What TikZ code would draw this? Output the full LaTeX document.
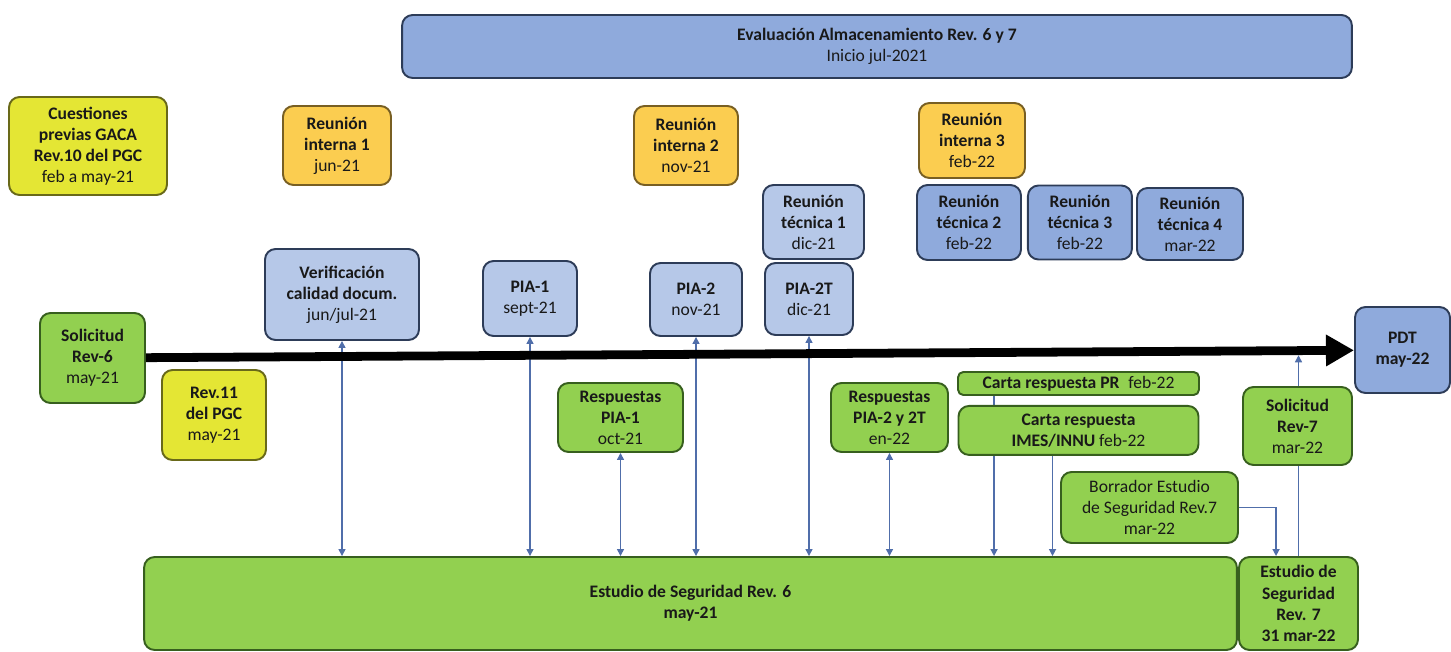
\documentclass[tikz,border=0pt]{standalone}
\usepackage{fontspec}
\setmainfont{Carlito}
\usepackage{xcolor}
\usepackage{tikz}
\usetikzlibrary{positioning,arrows.meta,backgrounds}

\definecolor{yelfill}{RGB}{228,230,52}
\definecolor{yeldraw}{RGB}{105,105,25}
\definecolor{orgfill}{RGB}{251,205,80}
\definecolor{orgdraw}{RGB}{120,95,35}
\definecolor{lblfill}{RGB}{182,200,232}
\definecolor{blufill}{RGB}{143,170,220}
\definecolor{bludraw}{RGB}{45,60,88}
\definecolor{grnfill}{RGB}{146,208,80}
\definecolor{grndraw}{RGB}{55,95,30}
\definecolor{linkcol}{RGB}{80,110,170}

\begin{document}
\begin{tikzpicture}[x=0.02cm, y=-0.02cm,
    box/.style={draw, rounded corners=6pt, line width=1.1pt, align=center,
                inner sep=2pt, font=\fontsize{10}{12}\selectfont, text=black!90},
    yelbox/.style={box, fill=yelfill, draw=yeldraw},
    orgbox/.style={box, fill=orgfill, draw=orgdraw},
    lblbox/.style={box, fill=lblfill, draw=bludraw},
    blubox/.style={box, fill=blufill, draw=bludraw},
    grnbox/.style={box, fill=grnfill, draw=grndraw},
    link/.style={draw=linkcol, line width=0.8pt, >={Triangle[length=4pt,width=4pt]}}]
    \useasboundingbox (0,0) rectangle (1451,652);

    % Top band
    \node[blubox, minimum width=19cm, minimum height=1.26cm] (eval) at (877,46.5)
        {\textbf{Evaluación Almacenamiento Rev. 6 y 7}\\Inicio jul-2021};

    % Meetings and previous steps
    \node[yelbox, minimum width=3.16cm, minimum height=1.96cm] (cuest) at (88,146)
        {\textbf{Cuestiones}\\\textbf{previas GACA}\\\textbf{Rev.10 del PGC}\\feb a may-21};
    \node[orgbox, minimum width=2.16cm, minimum height=1.58cm] (int1) at (337,145.5)
        {\textbf{Reunión}\\\textbf{interna 1}\\jun-21};
    \node[orgbox, minimum width=2.08cm, minimum height=1.58cm] (int2) at (686,145.5)
        {\textbf{Reunión}\\\textbf{interna 2}\\nov-21};
    \node[orgbox, minimum width=2.12cm, minimum height=1.5cm] (int3) at (972,140.5)
        {\textbf{Reunión}\\\textbf{interna 3}\\feb-22};
    \node[lblbox, minimum width=2.02cm, minimum height=1.48cm] (tec1) at (813.5,222)
        {\textbf{Reunión}\\\textbf{técnica 1}\\dic-21};
    \node[blubox, minimum width=2.08cm, minimum height=1.5cm] (tec2) at (969,222.5)
        {\textbf{Reunión}\\\textbf{técnica 2}\\feb-22};
    \node[blubox, minimum width=2.08cm, minimum height=1.48cm, right=0.1cm of tec2] (tec3)
        {\textbf{Reunión}\\\textbf{técnica 3}\\feb-22};
    \node[blubox, minimum width=2.12cm, minimum height=1.44cm] (tec4) at (1190,224)
        {\textbf{Reunión}\\\textbf{técnica 4}\\mar-22};

    % Above the time line
    \node[lblbox, minimum width=3.08cm, minimum height=1.82cm] (verif) at (342,294.5)
        {\textbf{Verificación}\\\textbf{calidad docum.}\\jun/jul-21};
    \node[lblbox, minimum width=1.88cm, minimum height=1.5cm] (pia1) at (530,298.5)
        {\textbf{PIA-1}\\sept-21};
    \node[lblbox, minimum width=1.84cm, minimum height=1.46cm] (pia2) at (696,299.5)
        {\textbf{PIA-2}\\nov-21};
    \node[lblbox, minimum width=1.76cm, minimum height=1.44cm] (pia2t) at (809,299)
        {\textbf{PIA-2T}\\dic-21};

    % Ends of the time line
    \node[grnbox, minimum width=2.1cm, minimum height=1.8cm] (solic6) at (92.5,358)
        {\textbf{Solicitud}\\\textbf{Rev-6}\\may-21};
    \node[blubox, minimum width=1.9cm, minimum height=1.72cm] (pdt) at (1402.5,350)
        {\textbf{PDT}\\\textbf{may-22}};

    % Below the time line
    \node[yelbox, minimum width=2.08cm, minimum height=1.8cm] (rev11) at (214,415)
        {\textbf{Rev.11}\\\textbf{del PGC}\\may-21};
    \node[grnbox, minimum width=2.5cm, minimum height=1.38cm] (resp1) at (620.5,417.5)
        {\textbf{Respuestas}\\\textbf{PIA-1}\\oct-21};
    \node[grnbox, minimum width=2.34cm, minimum height=1.38cm] (resp2) at (889.5,417.5)
        {\textbf{Respuestas}\\\textbf{PIA-2 y 2T}\\en-22};
    \node[grnbox, rounded corners=3pt, inner sep=1pt, minimum width=4.82cm,
          minimum height=0.46cm] (cartapr) at (1078.5,383.5)
        {\textbf{Carta respuesta PR}\enspace feb-22};
    \node[grnbox, minimum width=4.8cm, minimum height=0.98cm, below=0.18cm of cartapr] (cartaim)
        {\textbf{Carta respuesta}\\\textbf{IMES/INNU} feb-22};
    \node[grnbox, minimum width=3.54cm, minimum height=1.42cm] (borr) at (1149.5,507.5)
        {Borrador Estudio\\de Seguridad Rev.7\\mar-22};
    \node[grnbox, minimum width=2.18cm, minimum height=1.56cm] (solic7) at (1297.5,426)
        {\textbf{Solicitud}\\\textbf{Rev-7}\\mar-22};

    % Safety studies
    \node[grnbox, minimum width=21.86cm, minimum height=1.86cm] (est6) at (690.5,603.5)
        {\textbf{Estudio de Seguridad Rev. 6}\\\textbf{may-21}};
    \node[grnbox, minimum width=2.38cm, minimum height=1.86cm] (est7) at (1298.5,603.5)
        {\textbf{Estudio de}\\\textbf{Seguridad}\\\textbf{Rev. 7}\\\textbf{31 mar-22}};

    % Connectors
    \begin{scope}[on background layer]
        \foreach \n in {verif,pia1,pia2,pia2t,resp1,resp2}
            \draw[link,<->] (\n.south) -- (\n.south |- est6.north);
        \draw[link,->] ([xshift=0.74cm]cartapr.south west)
            -- ([xshift=0.74cm]cartapr.south west |- est6.north);
        \draw[link,->] ([xshift=1.9cm]cartaim.south west)
            -- ([xshift=1.9cm]cartaim.south west |- est6.north);
        \draw[link,->] (borr.east) -| ([xshift=0.76cm]est7.north west);
        \draw[link,->] (est7.north) -- ([yshift=-3pt]est7.north |- pdt.west);
    \end{scope}

    % Time line
    \draw[line width=5pt, -{Triangle[length=16pt,width=17pt]}] (solic6) -- (pdt);
\end{tikzpicture}
\end{document}
